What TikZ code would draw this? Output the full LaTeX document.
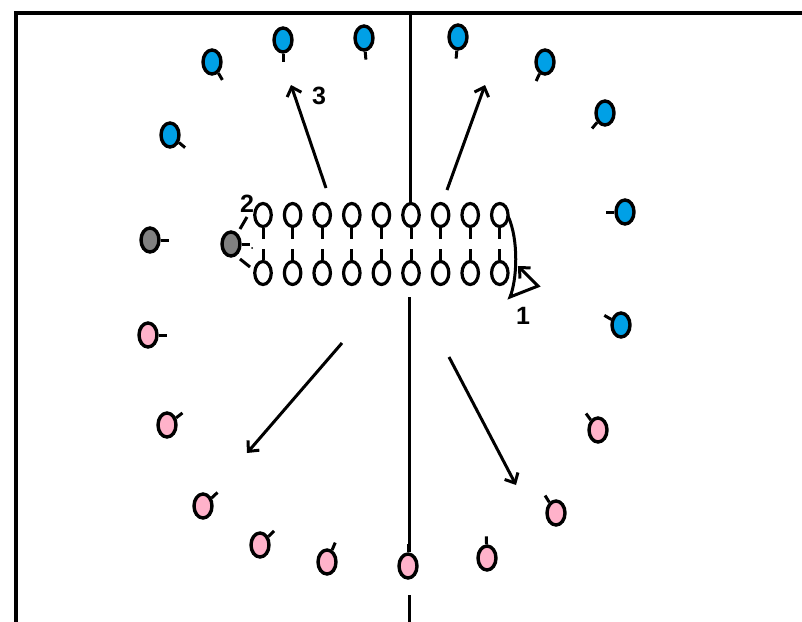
\documentclass[tikz,border=0pt]{standalone}
\usepackage{fontspec}
\newfontfamily\labfont{Liberation Sans}
\usetikzlibrary{shapes.geometric,arrows.meta}
\definecolor{pBlue}{RGB}{0,160,230}
\definecolor{pPink}{RGB}{255,178,202}
\definecolor{pGray}{RGB}{128,128,128}
\tikzset{
  pl/.style={ellipse, draw=black, line width=3.4pt, minimum width=18pt, minimum height=24pt, inner sep=0pt},
  bp/.style={pl, fill=pBlue},
  pp/.style={pl, fill=pPink},
  gp/.style={pl, fill=pGray},
  wp/.style={pl, fill=white, line width=3.2pt, minimum width=16.5pt, minimum height=23pt},
  tick/.style={line width=3pt},
  mv/.style={line width=3pt, -{Straight Barb[length=8pt,width=15pt,line width=3pt]}},
  frame/.style={line width=4pt},
  lab/.style={font=\labfont\bfseries\fontsize{25}{25}\selectfont, inner sep=0pt}
}
\begin{document}
\begin{tikzpicture}[x=1pt,y=-1pt]
\useasboundingbox (0,0) rectangle (802,621);
% frame and centre line
\coordinate (fTL) at (16,13);
\coordinate (fTR) at (804,13);
\coordinate (fBL) at (16,623);
\draw[frame] (fTR) -- (fTL) -- (fBL);
\coordinate (cA) at (410,11);
\coordinate (cB) at (410,203);
\coordinate (cC) at (409,297);
\coordinate (cD) at (409,552);
\coordinate (cE) at (409,595);
\coordinate (cF) at (409,623);
\draw[tick] (cA) -- (cB);
\draw[tick] (cC) -- (cD);
\draw[tick] (cE) -- (cF);
% outer players
\foreach \n/\x/\y/\a/\s in {
  b1/212/62/-60/bp, b2/283/40/-90/bp, b3/364/38/-85/bp, b4/458/37/-95/bp,
  b5/545/62/-115/bp, b6/605/113/-130/bp, b7/625/212/180/bp, b8/621/325/150/bp,
  b9/170/135/-40/bp, g1/150/240/0/gp, g2/231/244/0/gp,
  p1/148/335/0/pp, p2/167/425/38/pp, p3/203/506/43/pp, p4/260/545/45/pp,
  p5/327/562/67/pp, p6/408/566/90/pp, p7/487/558/92/pp, p8/556/513/122/pp,
  p9/598/430/126/pp}
{
  \node[\s] (\n) at (\x,\y) {};
  \draw[tick] (\n.\a) -- ++(\a:8pt);
}
% two rows
\foreach \i in {1,...,9}{
  \pgfmathsetmacro{\xx}{263+29.6*(\i-1)}
  \node[wp] (w\i) at (\xx,215) {};
  \draw[tick] (w\i.south) -- ++(0,11);
  \node[wp] (v\i) at (\xx,273) {};
  \draw[tick] (v\i.north) -- ++(0,-11);
}
% gray player links
\coordinate (gA) at (240,229);
\coordinate (gB) at (247,217);
\coordinate (gC) at (240,259);
\coordinate (gD) at (250,267);
\draw[tick] (gA) -- (gB);
\draw[tick] (gC) -- (gD);
\fill (252,248) circle (1pt);
% movement arrows
\coordinate (a3s) at (326,188);
\coordinate (a3e) at (291,85);
\coordinate (a4s) at (447,190);
\coordinate (a4e) at (485,85);
\coordinate (a5s) at (342,343);
\coordinate (a5e) at (247,453);
\coordinate (a6s) at (449,357);
\coordinate (a6e) at (516,485);
\draw[mv] (a3s) -- (a3e);
\draw[mv] (a4s) -- (a4e);
\draw[mv] (a5s) -- (a5e);
\draw[mv] (a6s) -- (a6e);
% curved move 1
\coordinate (r1) at (508,216);
\coordinate (r2) at (510,297);
\coordinate (r3) at (538,286);
\coordinate (r4) at (518,266);
\draw[mv] (r1) .. controls (519,240) and (517,280) .. (r2) -- (r3) -- (r4);
% labels
\node[lab] (l3) at (319,96) {3};
\node[lab] (l2) at (247,204) {2};
\node[lab] (l1) at (523,316) {1};
\end{tikzpicture}
\end{document}
